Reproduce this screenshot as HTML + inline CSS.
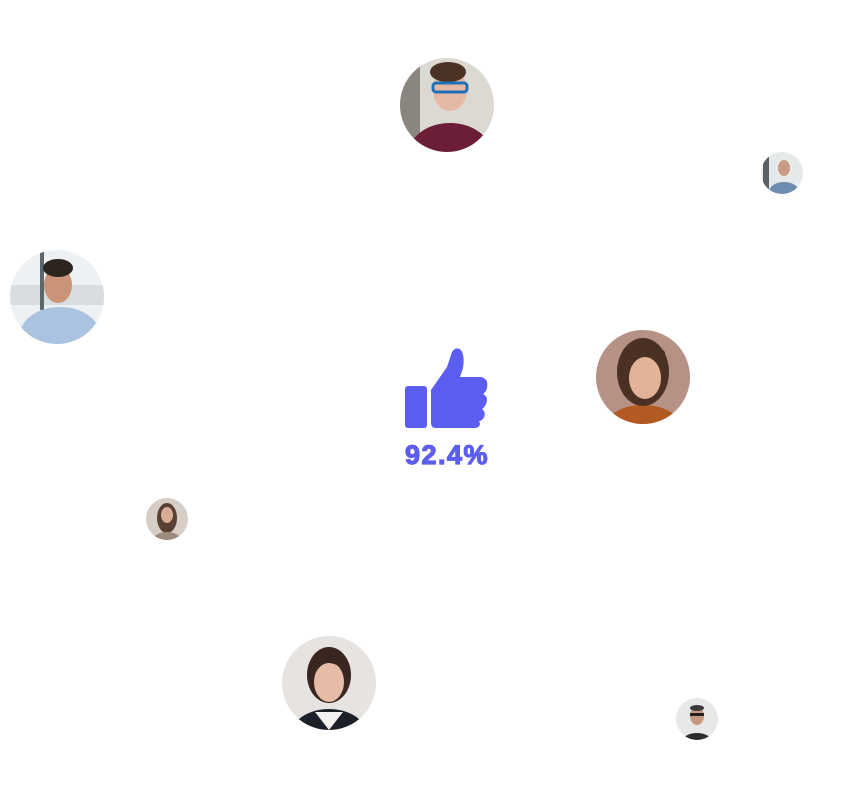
<!DOCTYPE html>
<html><head><meta charset="utf-8"><style>
body{margin:0;background:#fff;width:854px;height:812px;overflow:hidden;position:relative;font-family:"Liberation Sans",sans-serif}
svg{position:absolute;left:0;top:0}
</style></head><body>
<svg width="854" height="812" viewBox="0 0 854 812">
<defs>
<clipPath id="c1"><circle cx="447" cy="105" r="47"/></clipPath>
<clipPath id="c2"><circle cx="782" cy="173" r="21"/></clipPath>
<clipPath id="c3"><circle cx="57" cy="297" r="47"/></clipPath>
<clipPath id="c4"><circle cx="643" cy="377" r="47"/></clipPath>
<clipPath id="c5"><circle cx="167" cy="519" r="21"/></clipPath>
<clipPath id="c6"><circle cx="329" cy="683" r="47"/></clipPath>
<clipPath id="c7"><circle cx="697" cy="719" r="21"/></clipPath>
</defs>
<g clip-path="url(#c1)">
<rect x="400" y="58" width="94" height="94" fill="#dcd8d2"/>
<rect x="400" y="58" width="20" height="94" fill="#8a857e"/>
<ellipse cx="450" cy="155" rx="42" ry="32" fill="#6b1e35"/>
<ellipse cx="450" cy="90" rx="17" ry="21" fill="#e3b9a3"/>
<ellipse cx="448" cy="72" rx="18" ry="10" fill="#4a3224"/>
<rect x="433" y="83" width="34" height="9" rx="3" fill="none" stroke="#1e6fb8" stroke-width="3"/>
</g>
<g clip-path="url(#c2)">
<rect x="761" y="152" width="42" height="42" fill="#e6e9ea"/>
<rect x="763" y="152" width="6" height="42" fill="#5a6166"/>
<ellipse cx="784" cy="192" rx="15" ry="10" fill="#6a8db0"/>
<ellipse cx="784" cy="168" rx="6" ry="8" fill="#c99b84"/>
</g>
<g clip-path="url(#c3)">
<rect x="10" y="250" width="94" height="94" fill="#eef1f3"/>
<rect x="10" y="285" width="94" height="20" fill="#d7dde0"/>
<rect x="40" y="250" width="4" height="60" fill="#5d666b"/>
<ellipse cx="60" cy="335" rx="40" ry="28" fill="#a9c3e0"/>
<ellipse cx="58" cy="285" rx="14" ry="18" fill="#c99478"/>
<ellipse cx="58" cy="268" rx="15" ry="9" fill="#2e241e"/>
</g>
<g clip-path="url(#c4)">
<rect x="596" y="330" width="94" height="94" fill="#b59186"/>
<ellipse cx="643" cy="430" rx="40" ry="25" fill="#b35a22"/>
<ellipse cx="643" cy="372" rx="26" ry="34" fill="#4a3124"/>
<ellipse cx="645" cy="378" rx="16" ry="21" fill="#e2b397"/>
<path d="M625 360 Q645 340 665 362 L665 352 Q645 332 622 352Z" fill="#4a3124"/>
</g>
<g clip-path="url(#c5)">
<rect x="146" y="498" width="42" height="42" fill="#d6cdc6"/>
<ellipse cx="167" cy="518" rx="10" ry="15" fill="#5a4032"/>
<ellipse cx="167" cy="515" rx="6" ry="8" fill="#d8ad95"/>
<ellipse cx="167" cy="540" rx="14" ry="8" fill="#9d8b7e"/>
</g>
<g clip-path="url(#c6)">
<rect x="282" y="636" width="94" height="94" fill="#e7e3e0"/>
<ellipse cx="329" cy="735" rx="38" ry="26" fill="#1c2028"/>
<path d="M315 712 L329 730 L343 712Z" fill="#f4f2f0"/>
<ellipse cx="329" cy="675" rx="22" ry="28" fill="#3a2620"/>
<ellipse cx="329" cy="682" rx="15" ry="20" fill="#e6bca6"/>
<path d="M316 672 Q326 655 344 670 L344 660 Q328 648 312 662Z" fill="#3a2620"/>
</g>
<g clip-path="url(#c7)">
<rect x="676" y="698" width="42" height="42" fill="#e8e8e8"/>
<ellipse cx="697" cy="742" rx="15" ry="9" fill="#2a2c30"/>
<ellipse cx="697" cy="716" rx="7" ry="9" fill="#c8977f"/>
<ellipse cx="697" cy="708" rx="7" ry="3" fill="#3a3a3a"/>
<rect x="690" y="713" width="14" height="3" fill="#222"/>
</g>
<rect x="405" y="386" width="22" height="42" rx="3" fill="#5b5ef0"/>
<path d="M431 390 L447 367 L452 352 Q456 346 461 350 Q465 356 463 368 L460 377 L481 377 Q489 379 487 388 Q486 392 483 394 Q489 397 486 404 Q484 408 482 409 Q487 413 483 419 Q481 421 479 421 Q482 426 476 428 L436 428 Q431 428 431 423Z" fill="#5b5ef0"/>
<text x="447" y="464" text-anchor="middle" font-family="Liberation Sans, sans-serif" font-weight="bold" font-size="27" letter-spacing="1.5" stroke="#5b5ef0" stroke-width="1.2" fill="#5b5ef0">92.4%</text>
</svg>
</body></html>
